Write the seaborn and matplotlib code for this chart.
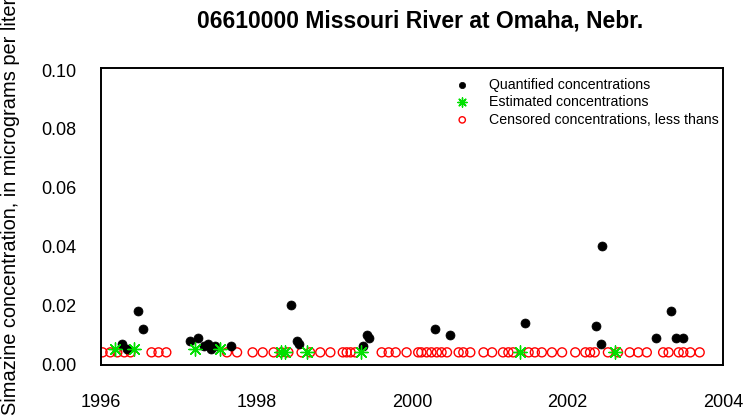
import numpy as np
import pandas as pd
import seaborn as sns
import matplotlib.pyplot as plt

# =========================
# DATA (decimal years, ug/L)
# =========================
quant_year = [1996.27, 1996.34, 1996.48, 1996.54, 1997.14, 1997.25, 1997.32, 1997.38,
              1997.42, 1997.47, 1997.67, 1998.44, 1998.52, 1998.55, 1999.37, 1999.42,
              1999.45, 2000.30, 2000.49, 2001.45, 2002.37, 2002.43, 2002.44, 2003.14,
              2003.33, 2003.39, 2003.49]
quant_conc = [0.007, 0.005, 0.018, 0.012, 0.008, 0.009, 0.006, 0.007,
              0.005, 0.006, 0.006, 0.020, 0.008, 0.007, 0.006, 0.010,
              0.009, 0.012, 0.010, 0.014, 0.013, 0.007, 0.040, 0.009,
              0.018, 0.009, 0.009]

est_year = [1996.18, 1996.42, 1997.21, 1997.53, 1998.32, 1998.37, 1998.65,
            1999.35, 2001.39, 2002.61]
est_conc = [0.005, 0.005, 0.005, 0.005, 0.004, 0.004, 0.004,
            0.004, 0.004, 0.004]

cens_year = [1996.02, 1996.12, 1996.21, 1996.30, 1996.38, 1996.65, 1996.74, 1996.84,
             1997.62, 1997.75, 1997.95, 1998.08, 1998.22, 1998.32, 1998.41, 1998.58,
             1998.69, 1998.82, 1998.95, 1999.11, 1999.16, 1999.21, 1999.27, 1999.61,
             1999.70, 1999.79, 1999.93, 2000.08, 2000.12, 2000.19, 2000.25, 2000.32,
             2000.38, 2000.45, 2000.60, 2000.66, 2000.75, 2000.92, 2001.03, 2001.17,
             2001.24, 2001.30, 2001.50, 2001.58, 2001.67, 2001.80, 2001.93, 2002.10,
             2002.23, 2002.29, 2002.35, 2002.52, 2002.65, 2002.80, 2002.91, 2003.02,
             2003.23, 2003.30, 2003.43, 2003.49, 2003.58, 2003.70]
cens_conc = [0.004] * len(cens_year)

x_ticks = [1996, 1998, 2000, 2002, 2004]
y_ticks = [0.00, 0.02, 0.04, 0.06, 0.08, 0.10]

title = "06610000 Missouri River at Omaha, Nebr."
y_label = "Simazine concentration, in micrograms per liter"

# =========================
# PLOT
# =========================
sns.set_style("white")
plt.rcParams['font.family'] = ['Liberation Sans', 'DejaVu Sans']
plt.rcParams['text.color'] = 'black'
plt.rcParams['axes.labelcolor'] = 'black'
plt.rcParams['xtick.color'] = 'black'
plt.rcParams['ytick.color'] = 'black'

fig = plt.figure(figsize=(7.48, 4.2), dpi=100)
ax = fig.add_axes([101 / 748, 1 - 365 / 420, 622 / 748, 297 / 420])

sns.scatterplot(x=cens_year, y=cens_conc, ax=ax, marker='o', s=42,
                facecolor='none', edgecolor='red', linewidth=1.0,
                label='Censored concentrations, less thans', zorder=2)
sns.scatterplot(x=quant_year, y=quant_conc, ax=ax, marker='o', s=42,
                color='black', edgecolor='black', linewidth=0.5,
                label='Quantified concentrations', zorder=3)
sns.scatterplot(x=est_year, y=est_conc, ax=ax, marker=(8, 2, 0), s=90,
                color='#00e000', edgecolor='#00e000', linewidth=1.0,
                label='Estimated concentrations', zorder=4)

ax.set_xlim(1996, 2004)
ax.set_ylim(-0.0003, 0.1007)
ax.set_xticks(x_ticks)
ax.set_xticklabels([str(t) for t in x_ticks])
ax.set_yticks(y_ticks)
ax.set_yticklabels([f"{t:.2f}" for t in y_ticks])
ax.tick_params(axis='y', direction='in', length=9, width=1.2, pad=18, labelsize=13)
ax.tick_params(axis='x', direction='in', length=7, width=1.2, pad=21, labelsize=13)
for sp in ax.spines.values():
    sp.set_visible(True)
    sp.set_color('black')
    sp.set_linewidth(1.4)

fig.text(420 / 748, 1 - 21 / 420, title, fontsize=16.5, fontweight='bold',
         ha='center', va='center', color='black')
ax.set_ylabel(y_label, fontsize=14.4, color='black')
ax.yaxis.set_label_coords(-0.130, 0.535)
ax.set_xlabel("")

handles, labels = ax.get_legend_handles_labels()
order = [labels.index('Quantified concentrations'),
         labels.index('Estimated concentrations'),
         labels.index('Censored concentrations, less thans')]
ax.legend([handles[i] for i in order], [labels[i] for i in order],
          loc='upper left', bbox_to_anchor=(0.558, 0.968), frameon=False,
          fontsize=10.2, borderpad=0, borderaxespad=0, handletextpad=0.9,
          labelspacing=0.25, markerscale=0.7)

fig.savefig("out.png", dpi=100)
